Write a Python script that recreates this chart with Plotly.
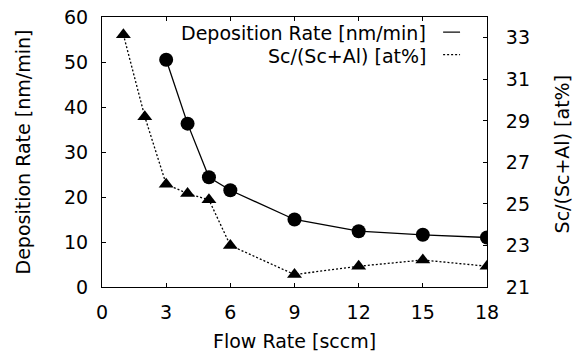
import plotly.graph_objects as go

flow_rate_rate = [3, 4, 5, 6, 9, 12, 15, 18]
deposition_rate = [50.5, 36.3, 24.4, 21.5, 15.0, 12.4, 11.6, 11.0]

flow_rate_sc = [1, 2, 3, 4, 5, 6, 9, 12, 15, 18]
sc_fraction = [33.15, 29.2, 25.95, 25.5, 25.2, 23.0, 21.6, 22.0, 22.3, 22.0]

x_ticks = [0, 3, 6, 9, 12, 15, 18]
y_ticks = [0, 10, 20, 30, 40, 50, 60]
y2_ticks = [21, 23, 25, 27, 29, 31, 33]

legend_labels = ["Deposition Rate [nm/min]", "Sc/(Sc+Al) [at%]"]
x_title = "Flow Rate [sccm]"
y_title = "Deposition Rate [nm/min]"
y2_title = "Sc/(Sc+Al) [at%]"

FONT = "DejaVu Sans"
FS = 19

fig = go.Figure()
fig.add_trace(go.Scatter(
    x=flow_rate_rate, y=deposition_rate, mode="lines+markers",
    line=dict(color="black", width=1.3),
    marker=dict(symbol="circle", size=14, color="black"),
    name=legend_labels[0], showlegend=False,
))
fig.add_trace(go.Scatter(
    x=flow_rate_sc, y=sc_fraction, mode="lines+markers", yaxis="y2",
    line=dict(color="black", width=1.3, dash="2px,2px"),
    marker=dict(symbol="triangle-up", size=13, color="black"),
    name=legend_labels[1], showlegend=False,
))

axis_common = dict(
    showgrid=False, zeroline=False, showline=True, linecolor="black",
    linewidth=1, ticks="inside", ticklen=4, tickcolor="black",
    automargin=False,
    tickfont=dict(family=FONT, size=FS, color="black"),
)

fig.update_layout(
    width=579, height=356,
    margin=dict(l=102, r=92, t=17, b=69, pad=0),
    paper_bgcolor="white", plot_bgcolor="white",
    font=dict(family=FONT, size=FS, color="black"),
    xaxis=dict(range=[0, 18], tickvals=x_ticks, mirror="ticks",
               ticklabelstandoff=8, **axis_common),
    yaxis=dict(range=[0, 60], tickvals=y_ticks,
               ticklabelstandoff=9, **axis_common),
    yaxis2=dict(range=[21, 34], tickvals=y2_ticks, overlaying="y", side="right",
                ticklabelstandoff=14, **axis_common),
    showlegend=False,
)

title_font = dict(family=FONT, size=FS, color="black")
fig.add_annotation(xref="paper", yref="paper", x=0.5, y=-0.2015, text=x_title,
                   showarrow=False, xanchor="center", yanchor="middle", font=title_font)
fig.add_annotation(xref="paper", yref="paper", x=-0.204, y=0.5, text=y_title,
                   textangle=-90, showarrow=False, xanchor="center", yanchor="middle",
                   font=title_font)
fig.add_annotation(xref="paper", yref="paper", x=1.194, y=0.49, text=y2_title,
                   textangle=-90, showarrow=False, xanchor="center", yanchor="middle",
                   font=title_font)

# legend (gnuplot style: right-aligned text with sample line on the right)
legend_rows_y = [0.94, 0.857]
dashes = ["solid", "2px,2px"]
for label, yy, dash in zip(legend_labels, legend_rows_y, dashes):
    fig.add_annotation(xref="paper", yref="paper", x=0.846, y=yy, text=label,
                       showarrow=False, xanchor="right", yanchor="middle",
                       font=title_font)
    fig.add_shape(type="line", xref="paper", yref="paper",
                  x0=0.886, x1=0.93, y0=yy + 0.004, y1=yy + 0.004,
                  line=dict(color="black", width=1.2, dash=dash))

fig.write_html("out.html")
